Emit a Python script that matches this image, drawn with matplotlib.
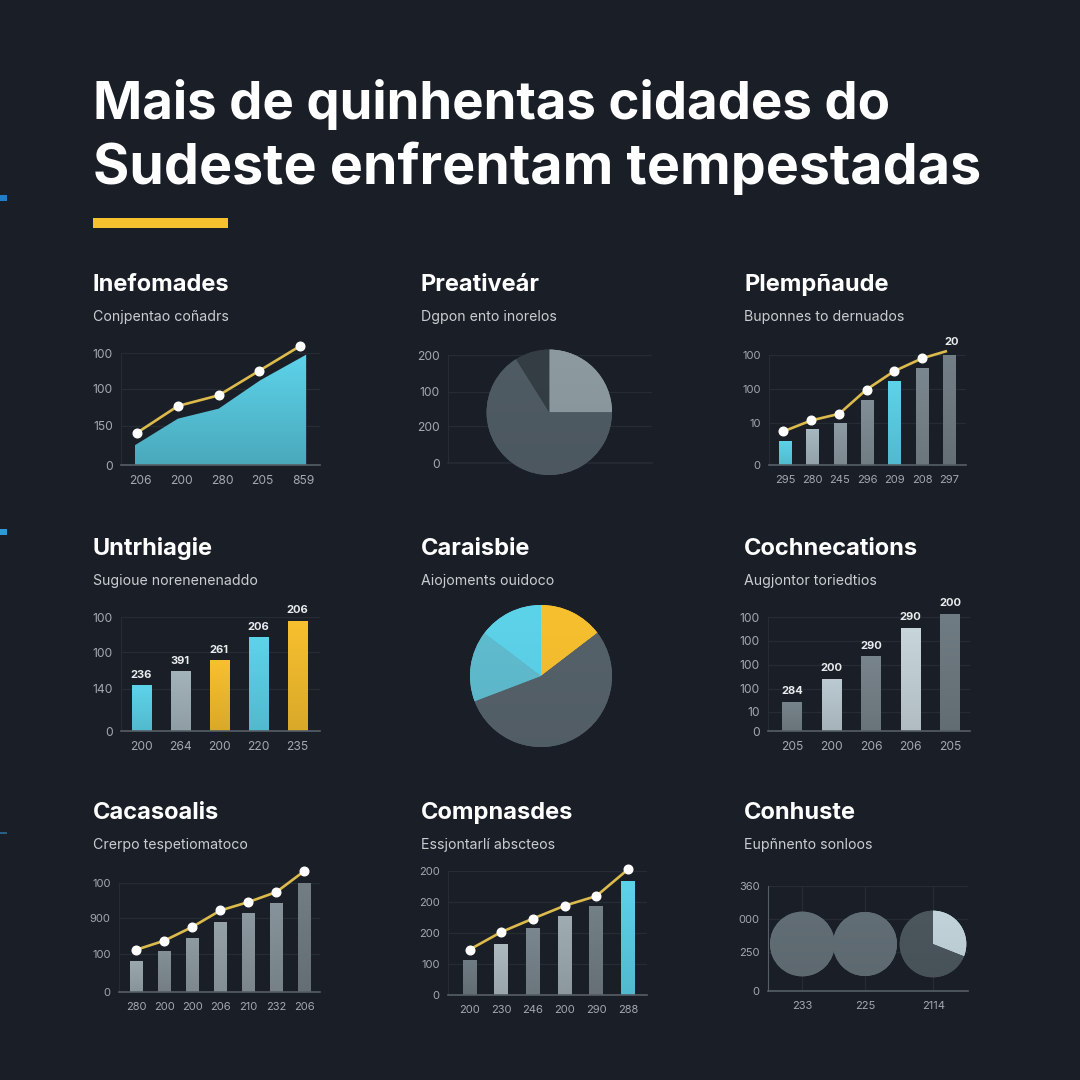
import numpy as np
import matplotlib
matplotlib.use('Agg')
import matplotlib.pyplot as plt
from matplotlib.colors import LinearSegmentedColormap, to_rgb
from matplotlib.patches import Polygon

plt.rcParams['font.family'] = ['Inter', 'DejaVu Sans']

BG = '#1a1f27'
CYAN = '#5dd3ea'
YELLOW = '#f7c02f'
LINE = '#dcbb4c'
WHITE = '#ffffff'
TICK = '#a3a9ae'
GRID = '#262c34'
AXIS = '#555e66'

# texto
main_title = ['Mais de quinhentas cidades do', 'Sudeste enfrentam tempestadas']
titles = ['Inefomades', 'Preativeár', 'Plempñaude', 'Untrhiagie', 'Caraisbie',
          'Cochnecations', 'Cacasoalis', 'Compnasdes', 'Conhuste']
subtitles = ['Conjpentao coñadrs', 'Dgpon ento inorelos', 'Buponnes to dernuados',
             'Sugioue norenenenaddo', 'Aiojoments ouidoco', 'Augjontor toriedtios',
             'Crerpo tespetiomatoco', 'Essjontarlí abscteos', 'Eupñnento sonloos']

# painel 1 - area + linha
p1_x = [0, 1, 2, 3, 4]
p1_area_x = [-0.06, 1.0, 2.0, 3.02, 4.15]
p1_area = [17.6, 41.4, 50.3, 75.6, 98.5]
p1_line = [28.9, 52.7, 62.2, 84.2, 106.2]
p1_xlabels = ['206', '200', '280', '205', '859']
p1_ylabels = ['0', '150', '100', '100']
p1_yticks = [0, 35, 68, 100]

# painel 2 - pizza
p2_vals = [25, 66.1, 8.9]
p2_colors = ['#8d9ba1', '#505c64', '#353e45']
p2_ylabels = ['0', '200', '100', '200']
p2_yticks = [0, 34, 66, 100]

# painel 3 - barras + linha
p3_bars = [22.1, 32.6, 38.1, 59.5, 76.4, 88.2, 100]
p3_line = [30.5, 40.5, 46.5, 68.6, 85.2, 97, 103.3]
p3_line_x = [-0.07, 0.95, 1.97, 2.97, 3.97, 5.0, 5.86]
p3_colors = [CYAN, '#a6b8bf', '#8d9ba2', '#818e95', CYAN, '#7b878e', '#737f86']
p3_xlabels = ['295', '280', '245', '296', '209', '208', '297']
p3_ylabels = ['0', '10', '100', '100']
p3_yticks = [0, 38, 69, 100]

# painel 4 - barras
p4_bars = [40.2, 52.2, 62.2, 82.4, 96.8]
p4_colors = [CYAN, '#a3b3ba', YELLOW, CYAN, YELLOW]
p4_tops = ['236', '391', '261', '206', '206']
p4_xlabels = ['200', '264', '200', '220', '235']
p4_ylabels = ['0', '140', '100', '100']
p4_yticks = [0, 37, 69, 100]

# painel 5 - pizza
p5_vals = [14.6, 54.6, 16.1, 14.7]
p5_colors = [YELLOW, '#56626a', '#60bdd0', CYAN]

# painel 6 - barras
p6_bars = [25.8, 45.7, 65.4, 90.6, 102.9]
p6_colors = ['#78848b', '#bccbd2', '#78848b', '#c8d6dc', '#707c83']
p6_tops = ['284', '200', '290', '290', '200']
p6_xlabels = ['205', '200', '206', '206', '205']
p6_ylabels = ['0', '10', '100', '100', '100', '100']
p6_yticks = [0, 17, 37, 58, 79, 100]

# painel 7 - barras + linha
p7_bars = [28.3, 37.5, 49.8, 64.3, 72.3, 81.2, 100]
p7_line = [38.8, 47.1, 59.7, 74.8, 82.5, 91.7, 111]
p7_colors = ['#9aa8ae', '#848f96', '#8e9ba1', '#95a2a8', '#8c989f', '#87939a', '#727d84']
p7_xlabels = ['280', '200', '200', '206', '210', '232', '206']
p7_ylabels = ['0', '100', '900', '100']
p7_yticks = [0, 35, 68, 100]

# painel 8 - barras + linha
p8_bars = [28.5, 41.1, 54, 64, 72, 92.2]
p8_line = [36.6, 50.8, 61.6, 72, 79.8, 101.3]
p8_colors = ['#707c83', '#adbbc1', '#7a878e', '#9fadb3', '#747f86', CYAN]
p8_xlabels = ['200', '230', '246', '200', '290', '288']
p8_ylabels = ['0', '100', '200', '200', '200']
p8_yticks = [0, 25, 50, 75, 100]

# painel 9 - tres pizzas
p9_vals = [[100], [100], [31, 69]]
p9_colors = [['#626e75'], ['#626e75'], ['#c2d3da', '#4b565d']]
p9_xlabels = ['233', '225', '2114']
p9_ylabels = ['0', '250', '000', '360']
p9_yticks = [0, 37, 69, 100]


fig = plt.figure(figsize=(10.8, 10.8), dpi=100, facecolor=BG)


def px_axes(left, top, right, bottom):
    ax = fig.add_axes([left / 1080, 1 - bottom / 1080, (right - left) / 1080, (bottom - top) / 1080])
    ax.patch.set_alpha(0)
    return ax


def shade(color, k):
    return tuple(c * k for c in to_rgb(color))


def gradient(ax, patch, color, extent, low=0.72):
    cmap = LinearSegmentedColormap.from_list('g', [shade(color, low), shade(color, 1.0)])
    xlim, ylim = ax.get_xlim(), ax.get_ylim()
    im = ax.imshow(np.linspace(1, 0, 64).reshape(-1, 1), cmap=cmap, extent=extent, aspect='auto',
                   zorder=patch.get_zorder(), vmin=0, vmax=1)
    im.set_clip_path(patch)
    ax.set_xlim(xlim)
    ax.set_ylim(ylim)


def base_axes(left, top, right, bottom, ymax, yticks, ylabels, xticks, xlabels, xlim, size=8.7):
    ax = px_axes(left, top, right, bottom)
    ax.set_xlim(*xlim)
    ax.set_ylim(0, ymax)
    for s in ['top', 'right']:
        ax.spines[s].set_visible(False)
    ax.spines['left'].set_color(GRID)
    ax.spines['left'].set_bounds(0, max(yticks))
    ax.spines['bottom'].set_color(AXIS)
    ax.spines['bottom'].set_linewidth(1.2)
    ax.set_yticks(yticks, ylabels)
    ax.set_xticks(xticks, xlabels)
    ax.tick_params(length=0, labelsize=size, colors=TICK, pad=6)
    ax.tick_params(axis='x', pad=7)
    ax.grid(axis='y', color=GRID, linewidth=0.9)
    ax.set_axisbelow(True)
    return ax


def draw_bars(ax, x, vals, colors, width):
    bars = ax.bar(x, vals, width=width, color=colors, zorder=2)
    for b, c in zip(bars, colors):
        gradient(ax, b, c, [b.get_x(), b.get_x() + b.get_width(), 0, b.get_height()], low=0.88)


def draw_line(ax, x, vals, markers=None):
    ax.plot(x, vals, color=LINE, linewidth=1.9, zorder=3, clip_on=False)
    n = len(x) if markers is None else markers
    ax.plot(x[:n], vals[:n], 'o', color=WHITE, markersize=6.2, zorder=4, clip_on=False)


def draw_tops(ax, x, vals, labels):
    for xi, v, t in zip(x, vals, labels):
        ax.annotate(t, (xi, v), xytext=(0, 4), textcoords='offset points', ha='center', va='bottom',
                    color='#e8ecee', fontsize=8, fontweight='bold', zorder=5, annotation_clip=False)


def draw_pie(cx, cy, r, vals, colors, start=90):
    ax = px_axes(cx - r - 2, cy - r - 2, cx + r + 2, cy + r + 2)
    wedges, _ = ax.pie(vals, colors=colors, startangle=start, counterclock=False, radius=r / (r + 2),
                       center=(0, 0), wedgeprops={'linewidth': 0})
    ax.set_xlim(-1, 1)
    ax.set_ylim(-1, 1)
    for w, c in zip(wedges, colors):
        gradient(ax, w, c, [-1, 1, -1, 1], low=0.95)


# fundo
fig.text(93 / 1080, 1 - 105 / 1080, main_title[0], color=WHITE, fontsize=38, fontweight='bold', va='center')
fig.text(93 / 1080, 1 - 168 / 1080, main_title[1], color=WHITE, fontsize=40, fontweight='bold', va='center')
fig.patches.append(plt.Rectangle((93 / 1080, 1 - 228 / 1080), 135 / 1080, 10 / 1080, facecolor=YELLOW,
                                 linewidth=0, transform=fig.transFigure))
for y, h, c in zip([198, 532, 833], [6, 6, 2], ['#1f7ec8', '#2b9bd8', '#2a5f85']):
    fig.patches.append(plt.Rectangle((0, 1 - (y + h / 2) / 1080), 7 / 1080, h / 1080, facecolor=c,
                                     linewidth=0, transform=fig.transFigure))

# titulos dos paineis
col_x = [93, 421, 744]
row_y = [285, 549, 813]
for i in range(9):
    x = col_x[i % 3]
    y = row_y[i // 3]
    fig.text(x / 1080, 1 - y / 1080, titles[i], color=WHITE, fontsize=17, fontweight='bold', va='center')
    fig.text(x / 1080, 1 - (y + 32) / 1080, subtitles[i], color='#c9cdd0', fontsize=10.2, va='center')

# 1
ax = base_axes(121, 353, 320, 465, 100, p1_yticks, p1_ylabels, [i + 0.08 for i in p1_x], p1_xlabels, (-0.40, 4.49))
clip = Polygon(list(zip([p1_area_x[0]] + p1_area_x + [p1_area_x[-1]], [0] + p1_area + [0])), transform=ax.transData)
ax.add_patch(clip)
clip.set_visible(False)
clip.set_zorder(2)
gradient(ax, clip, CYAN, [p1_area_x[0], p1_area_x[-1], 0, max(p1_area)], low=0.8)
draw_line(ax, p1_x, p1_line)

# 2
ax = base_axes(448, 355, 652, 463, 100, p2_yticks, p2_ylabels, [], [], (0, 1))
ax.spines['bottom'].set_color(GRID)
draw_pie(549.3, 412.3, 62.7, p2_vals, p2_colors)

# 3
x3 = list(range(7))
ax = base_axes(769, 355, 966, 465, 100, p3_yticks, p3_ylabels, x3, p3_xlabels, (-0.59, 6.6), size=8)
draw_bars(ax, x3, p3_bars, p3_colors, 0.46)
draw_line(ax, p3_line_x, p3_line, markers=6)
ax.annotate('20', (p3_line_x[-1], p3_line[-1]), xytext=(4, 3), textcoords='offset points', ha='center', va='bottom',
            color='#e8ecee', fontsize=8, fontweight='bold', annotation_clip=False)

# 4
x4 = list(range(5))
ax = base_axes(121, 617, 320, 731, 100, p4_yticks, p4_ylabels, x4, p4_xlabels, (-0.52, 4.58))
draw_bars(ax, x4, p4_bars, p4_colors, 0.49)
draw_tops(ax, x4, p4_bars, p4_tops)

# 5
draw_pie(541, 676, 71, p5_vals, p5_colors)

# 6 - eixo mais alto porque a ultima barra passa da grade
x6 = list(range(5))
ax = base_axes(768, 605.6, 970, 731, 110, p6_yticks, p6_ylabels, x6, p6_xlabels, (-0.61, 4.5))
draw_bars(ax, x6, p6_bars, p6_colors, 0.5)
draw_tops(ax, x6, p6_bars, p6_tops)

# 7
x7 = list(range(7))
ax = base_axes(119, 883, 320, 992, 100, p7_yticks, p7_ylabels, x7, p7_xlabels, (-0.62, 6.56), size=8)
draw_bars(ax, x7, p7_bars, p7_colors, 0.46)
draw_line(ax, x7, p7_line)

# 8
x8 = list(range(6))
ax = base_axes(448, 871, 647, 995, 100, p8_yticks, p8_ylabels, x8, p8_xlabels, (-0.68, 5.6), size=8)
draw_bars(ax, x8, p8_bars, p8_colors, 0.44)
draw_line(ax, x8, p8_line)

# 9
ax = base_axes(768, 886, 968, 991, 100, p9_yticks, p9_ylabels, [217, 406, 610], p9_xlabels, (115, 714), size=8)
ax.grid(axis='x', color=GRID, linewidth=0.9)
ax.spines['left'].set_color(AXIS)
for cx, r, v, c in zip([802.3, 865, 933], [32.3, 32, 33.3], p9_vals, p9_colors):
    draw_pie(cx, 944, r, v, c)

fig.savefig('out.png', dpi=100, facecolor=BG)
